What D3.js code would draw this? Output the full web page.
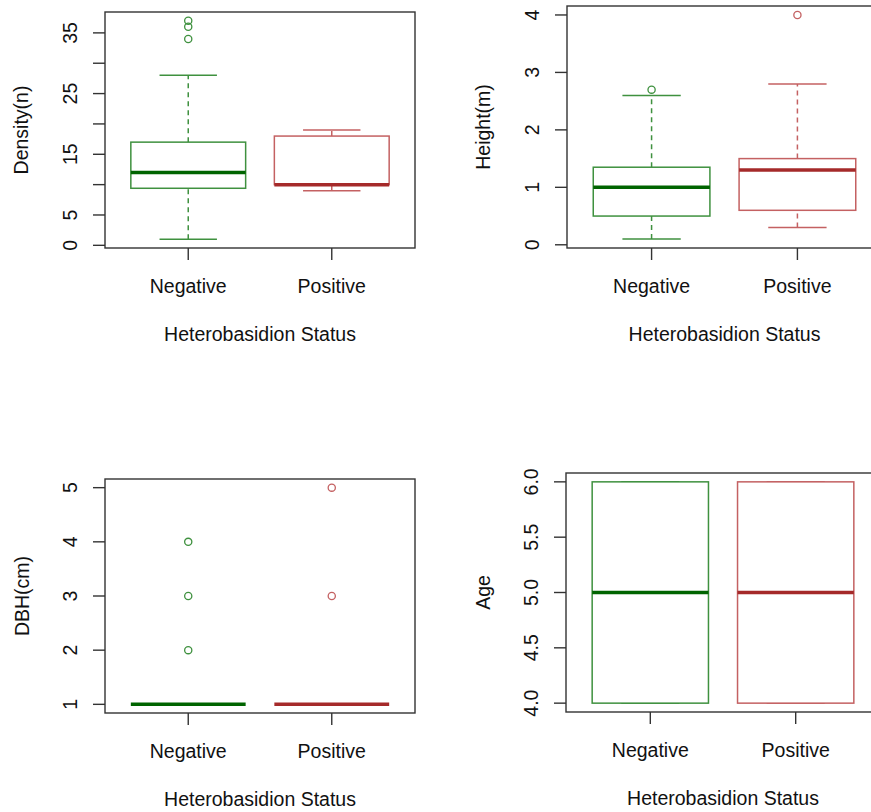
<!DOCTYPE html>
<html>
<head>
<meta charset="utf-8">
<script src="https://cdn.jsdelivr.net/npm/d3@7"></script>
<style>
body { margin: 0; background: white; }
svg text { font-family: "Liberation Sans", Arial, sans-serif; fill: #111; }
</style>
</head>
<body>
<svg id="chart" width="871" height="812"></svg>
<script>
var categories = ["Negative", "Positive"];

// [lower whisker, Q1, median, Q3, upper whisker]
var densityStats = [[1, 9.4, 12, 17, 28], [9, 10, 10, 18, 19]];
var densityOutliers = [[34, 36, 37], []];
var densityTicks = [0, 5, 10, 15, 20, 25, 30, 35];
var densityLabels = [0, 5, 15, 25, 35];

var heightStats = [[0.1, 0.5, 1.0, 1.35, 2.6], [0.3, 0.6, 1.3, 1.5, 2.8]];
var heightOutliers = [[2.7], [4]];
var heightTicks = [0, 1, 2, 3, 4];

var dbhStats = [[1, 1, 1, 1, 1], [1, 1, 1, 1, 1]];
var dbhOutliers = [[2, 3, 4], [3, 5]];
var dbhTicks = [1, 2, 3, 4, 5];

var ageStats = [[4, 4, 5, 6, 6], [4, 4, 5, 6, 6]];
var ageOutliers = [[], []];
var ageTicks = [4.0, 4.5, 5.0, 5.5, 6.0];

var boxColors = ["#3f913f", "#c46162"];
var medianColors = ["#006400", "#a52a2a"];
var fontSize = "19.5px";

var svg = d3.select("#chart");

drawPanel({left: 105, right: 415, top: 12, bottom: 248, ylab: "Density(n)", labX: 28,
    stats: densityStats, outliers: densityOutliers, ticks: densityTicks, labels: densityLabels, fmt: d3.format("d")});
drawPanel({left: 567, right: 882, top: 6, bottom: 248, ylab: "Height(m)", labX: 490,
    stats: heightStats, outliers: heightOutliers, ticks: heightTicks, labels: heightTicks, fmt: d3.format("d")});
drawPanel({left: 105, right: 415, top: 479, bottom: 713, ylab: "DBH(cm)", labX: 29,
    stats: dbhStats, outliers: dbhOutliers, ticks: dbhTicks, labels: dbhTicks, fmt: d3.format("d")});
drawPanel({left: 566, right: 880, top: 473, bottom: 712, ylab: "Age", labX: 490,
    stats: ageStats, outliers: ageOutliers, ticks: ageTicks, labels: ageTicks, fmt: d3.format(".1f")});

function drawPanel(p) {
    var g = svg.append("g");

    var all = [];
    p.stats.forEach(function (s, i) { all = all.concat(s, p.outliers[i]); });
    var lo = d3.min(all), hi = d3.max(all);
    var pad = (hi - lo) * 0.04;

    var x = d3.scaleLinear().domain([0.42, 2.58]).range([p.left, p.right]);
    var y = d3.scaleLinear().domain([lo - pad, hi + pad]).range([p.bottom, p.top]);

    // boxes
    p.stats.forEach(function (s, i) {
        var cx = x(i + 1);
        var hw = x(1.4) - x(1);
        var cw = x(1.2) - x(1);

        g.append("line")
            .attr("x1", cx).attr("x2", cx)
            .attr("y1", y(s[0])).attr("y2", y(s[1]))
            .attr("stroke", boxColors[i]).attr("stroke-width", 1.5)
            .attr("stroke-dasharray", "5,4");
        g.append("line")
            .attr("x1", cx).attr("x2", cx)
            .attr("y1", y(s[3])).attr("y2", y(s[4]))
            .attr("stroke", boxColors[i]).attr("stroke-width", 1.5)
            .attr("stroke-dasharray", "5,4");

        [s[0], s[4]].forEach(function (v) {
            g.append("line")
                .attr("x1", cx - cw).attr("x2", cx + cw)
                .attr("y1", y(v)).attr("y2", y(v))
                .attr("stroke", boxColors[i]).attr("stroke-width", 1.5);
        });

        g.append("rect")
            .attr("x", cx - hw)
            .attr("y", y(s[3]))
            .attr("width", 2 * hw)
            .attr("height", y(s[1]) - y(s[3]))
            .attr("fill", "white")
            .attr("stroke", boxColors[i])
            .attr("stroke-width", 1.5);

        g.append("line")
            .attr("x1", cx - hw).attr("x2", cx + hw)
            .attr("y1", y(s[2])).attr("y2", y(s[2]))
            .attr("stroke", medianColors[i]).attr("stroke-width", 3.5);

        g.selectAll(null)
            .data(p.outliers[i])
            .enter()
            .append("circle")
            .attr("cx", cx)
            .attr("cy", function (d) { return y(d); })
            .attr("r", 3.6)
            .attr("fill", "none")
            .attr("stroke", boxColors[i])
            .attr("stroke-width", 1.3);
    });

    // frame
    g.append("rect")
        .attr("x", p.left).attr("y", p.top)
        .attr("width", p.right - p.left).attr("height", p.bottom - p.top)
        .attr("fill", "none")
        .attr("stroke", "#333")
        .attr("stroke-width", 1.4);

    // y axis
    g.selectAll(null)
        .data(p.ticks)
        .enter()
        .append("line")
        .attr("x1", p.left - 12).attr("x2", p.left)
        .attr("y1", function (d) { return y(d); })
        .attr("y2", function (d) { return y(d); })
        .attr("stroke", "#333").attr("stroke-width", 1.4);

    g.selectAll(null)
        .data(p.labels)
        .enter()
        .append("text")
        .attr("transform", function (d) { return "translate(" + (p.left - 28) + "," + y(d) + ") rotate(-90)"; })
        .attr("text-anchor", "middle")
        .style("font-size", fontSize)
        .text(function (d) { return p.fmt(d); });

    // x axis
    categories.forEach(function (c, i) {
        g.append("line")
            .attr("x1", x(i + 1)).attr("x2", x(i + 1))
            .attr("y1", p.bottom).attr("y2", p.bottom + 12)
            .attr("stroke", "#333").attr("stroke-width", 1.4);
        g.append("text")
            .attr("x", x(i + 1))
            .attr("y", p.bottom + 45)
            .attr("text-anchor", "middle")
            .style("font-size", fontSize)
            .text(c);
    });

    g.append("text")
        .attr("x", (x(1) + x(2)) / 2)
        .attr("y", p.bottom + 93)
        .attr("text-anchor", "middle")
        .style("font-size", fontSize)
        .text("Heterobasidion Status");

    g.append("text")
        .attr("transform", "translate(" + p.labX + "," + (p.top + p.bottom) / 2 + ") rotate(-90)")
        .attr("text-anchor", "middle")
        .style("font-size", fontSize)
        .text(p.ylab);
}
</script>
</body>
</html>
